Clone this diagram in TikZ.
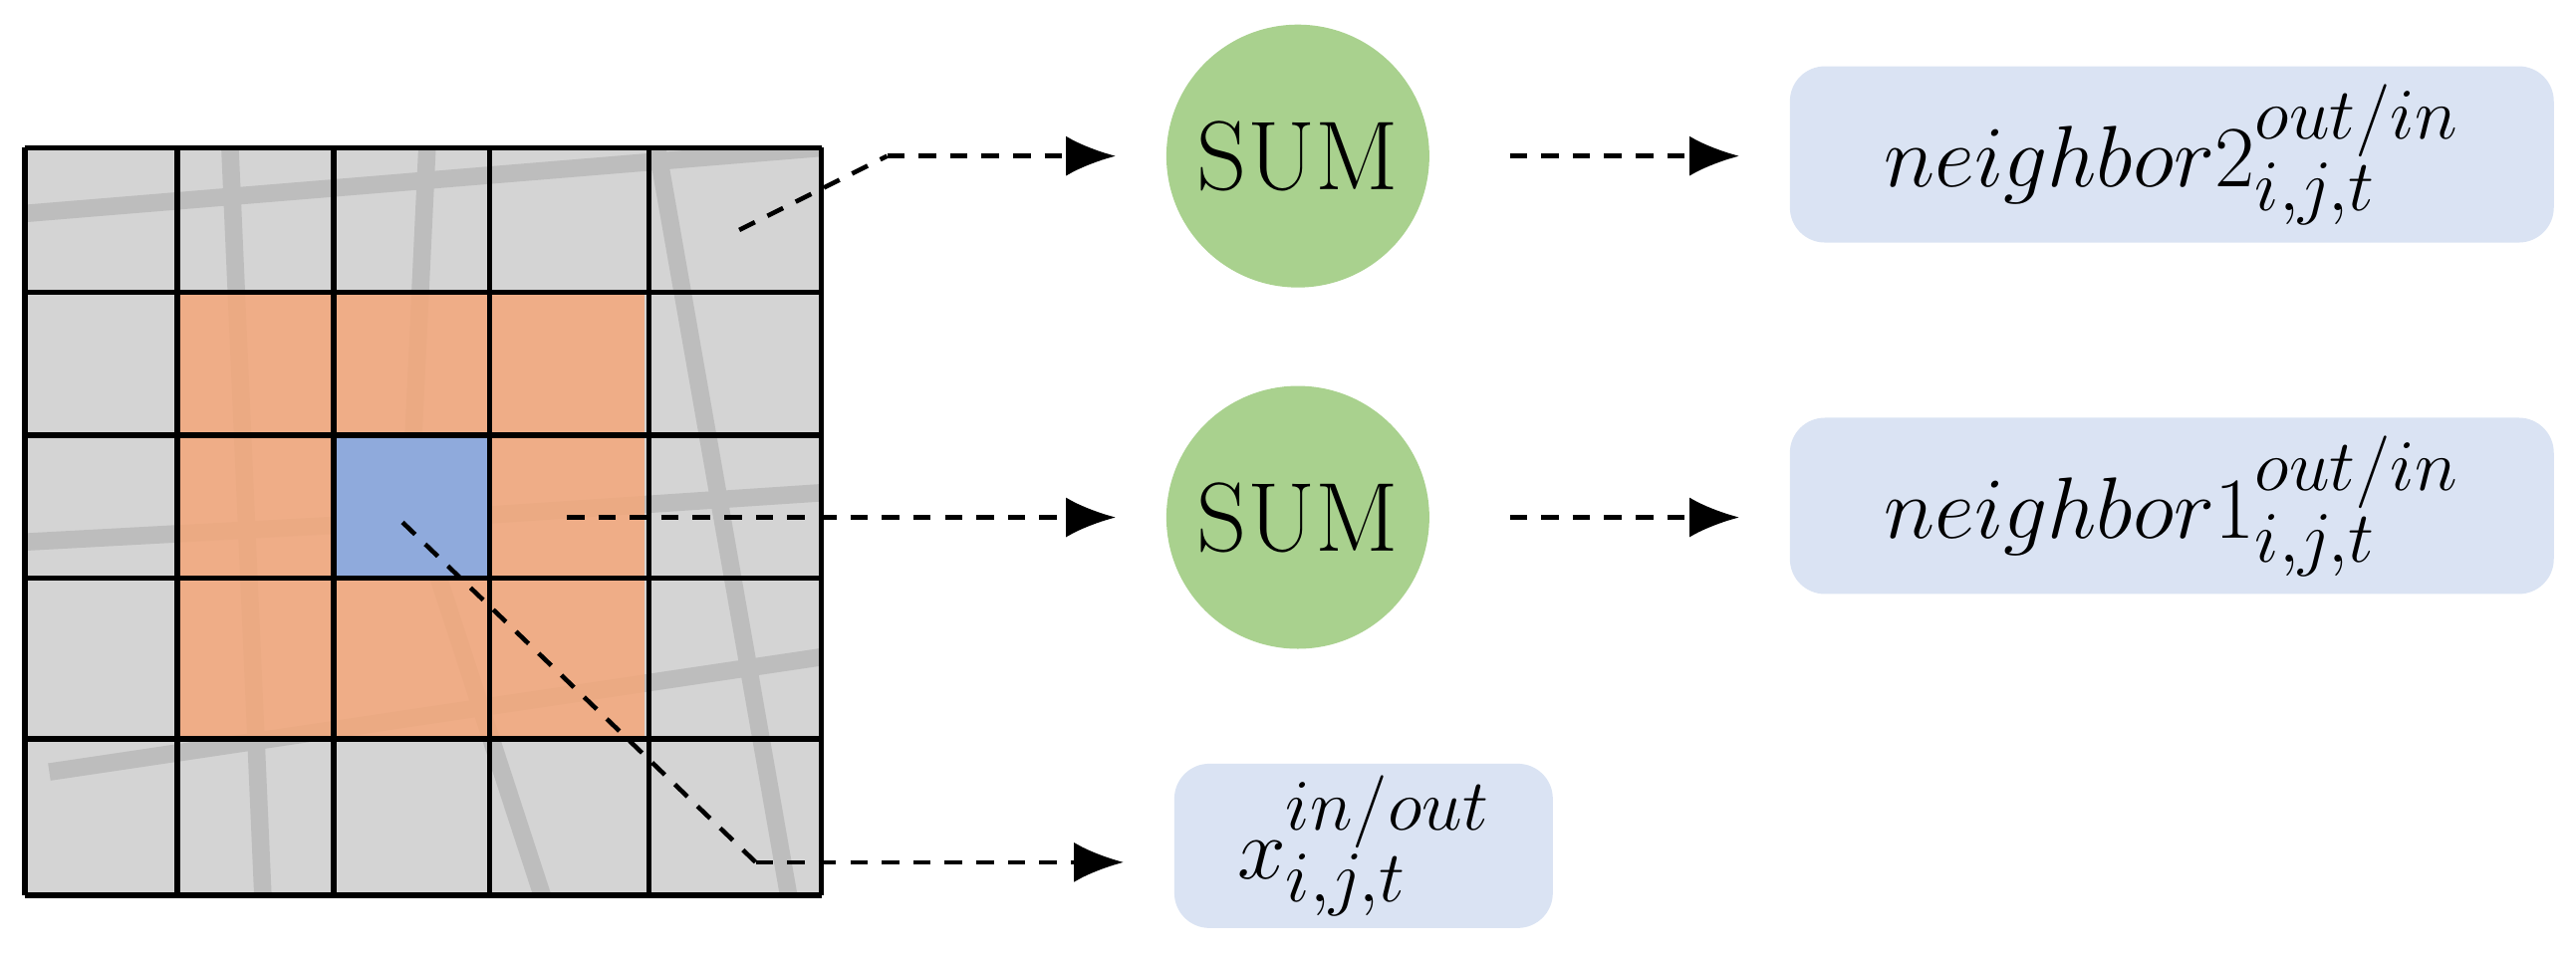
\documentclass[tikz,border=0pt]{standalone}
\usetikzlibrary{arrows.meta}
\definecolor{sumgreen}{HTML}{A9D18E}
\definecolor{boxblue}{HTML}{DAE3F3}
\definecolor{cellorange}{HTML}{F4A77A}
\definecolor{cellblue}{HTML}{8FAADC}
\definecolor{mapgray}{HTML}{D4D4D4}
\definecolor{roadgray}{HTML}{BDBDBD}
\tikzset{
  sum/.style={circle,fill=sumgreen,minimum size=2.64cm,inner sep=0pt,font=\fontsize{28}{32}\selectfont},
  lab/.style={rounded corners=10pt,fill=boxblue,inner sep=0pt,font=\fontsize{31}{36}\selectfont},
  flow/.style={line width=1.3pt,dash pattern=on 5pt off 4pt,-{Latex[length=5mm,width=4mm]}},
  lead/.style={line width=1.3pt,dash pattern=on 5pt off 4pt}
}
\begin{document}
\begin{tikzpicture}[x=0.01649cm,y=-0.01649cm]
\useasboundingbox (0,0) rectangle (1568,584);

% map
\fill[mapgray] (15,90) rectangle (500,545);
\begin{scope}[roadgray,line width=5pt]
\clip (15,90) rectangle (500,545);
\draw (15,130) -- (500,90);
\draw (15,330) -- (200,320) -- (500,300);
\draw (140,90) -- (160,545);
\draw (260,90) -- (250,300) -- (330,545);
\draw (30,470) -- (500,400);
\draw (400,90) -- (480,545);
\end{scope}
\fill[cellorange,opacity=.85] (108,178) rectangle (392,450);
\fill[cellblue] (203,265) rectangle (298,352);
\foreach \x in {15,108,203,298,395,500} \draw[line width=1.6pt] (\x,90) -- (\x,545);
\foreach \y in {90,178,265,352,450,545} \draw[line width=1.6pt] (15,\y) -- (500,\y);

% nodes
\node[sum] (sum2) at (790,95) {SUM};
\node[sum] (sum1) at (790,315) {SUM};
\node[lab,minimum width=7.67cm,minimum height=1.77cm] (nb2) at (1322,94) {$neighbor2^{out/in}_{i,j,t}$};
\node[lab,minimum width=7.67cm,minimum height=1.77cm] (nb1) at (1322,308) {$neighbor1^{out/in}_{i,j,t}$};
\node[lab,minimum width=3.8cm,minimum height=1.65cm] (xin) at (830,515) {$x^{in/out}_{i,j,t}$};

\coordinate (c2) at (450,140);
\coordinate (k2) at (540,95);
\coordinate (c1) at (345,315);
\coordinate (c0) at (245,318);
\coordinate (k0) at (460,525);

% connectors
\draw[lead] (c2) -- (k2);
\draw[flow] (k2) -- ([xshift=-5mm]sum2.west);
\draw[flow] (c1) -- ([xshift=-5mm]sum1.west);
\draw[lead] (c0) -- (k0);
\draw[flow] (k0) -- ([xshift=-5mm]xin.west|-k0);
\draw[flow] ([xshift=8mm]sum2.east) -- ([xshift=-5mm]nb2.west|-sum2);
\draw[flow] ([xshift=8mm]sum1.east) -- ([xshift=-5mm]nb1.west|-sum1);
\end{tikzpicture}
\end{document}
